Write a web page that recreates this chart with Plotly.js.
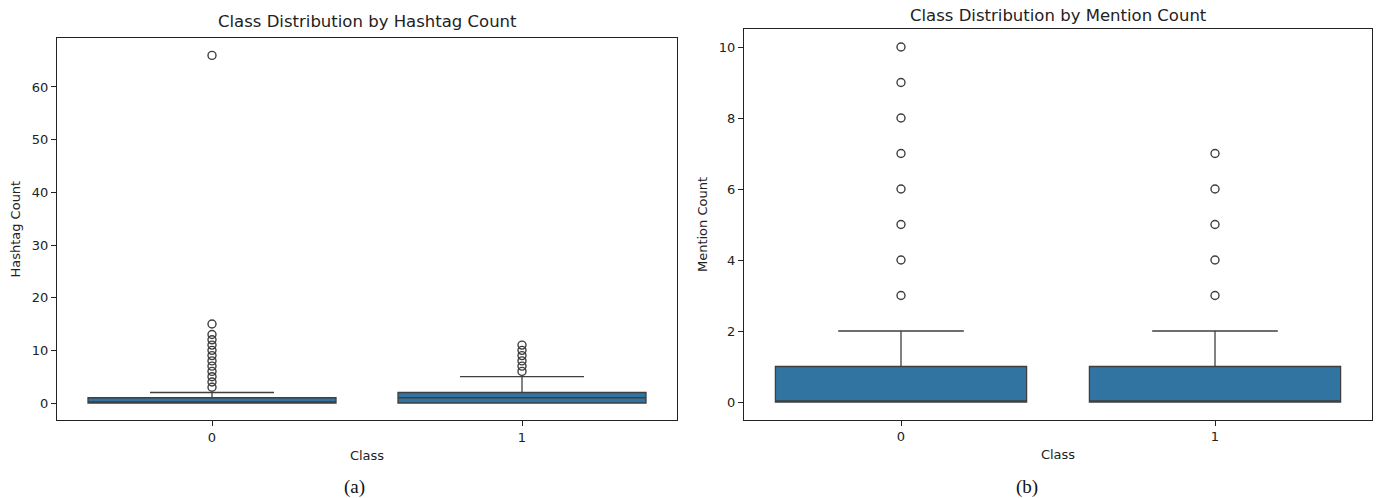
<!DOCTYPE html>
<html>
<head>
<meta charset="utf-8">
<script src="https://cdn.plot.ly/plotly-3.0.1.min.js"></script>
<style>html,body{margin:0;padding:0;background:#fff;}#chart{width:1377px;height:498px;}</style>
</head>
<body>
<div id="chart"></div>
<script>
// Categories
const classes = ['0', '1'];
const tickLabels = ['0', '1'];

// Hashtag count box statistics (per class)
const hashQ1 = [0, 0];
const hashMedian = [0, 1];
const hashQ3 = [1, 2];
const hashLower = [0, 0];
const hashUpper = [2, 5];
// Hashtag outliers
const hashOutClass0 = [3, 4, 5, 6, 7, 8, 9, 10, 11, 12, 13, 15, 66];
const hashOutClass1 = [6, 7, 8, 9, 10, 11];

// Mention count box statistics (per class)
const menQ1 = [0, 0];
const menMedian = [0, 0];
const menQ3 = [1, 1];
const menLower = [0, 0];
const menUpper = [2, 2];
// Mention outliers
const menOutClass0 = [3, 4, 5, 6, 7, 8, 9, 10];
const menOutClass1 = [3, 4, 5, 6, 7];

const boxFill = '#3274a1';
const lineCol = '#3f3f3f';
const font = 'DejaVu Sans, sans-serif';

function boxTrace(q1, med, q3, lo, hi, xa, ya) {
  return {
    type: 'box', x: classes, q1: q1, median: med, q3: q3,
    lowerfence: lo, upperfence: hi,
    width: 0.8, whiskerwidth: 0.5,
    fillcolor: boxFill, line: {color: lineCol, width: 1.3},
    boxpoints: false, showlegend: false, hoverinfo: 'skip',
    xaxis: xa, yaxis: ya
  };
}
function outTrace(cls, vals, xa, ya) {
  return {
    type: 'scatter', mode: 'markers',
    x: vals.map(() => cls), y: vals,
    marker: {symbol: 'circle-open', size: 8, color: lineCol, line: {width: 1.4, color: lineCol}},
    showlegend: false, hoverinfo: 'skip', xaxis: xa, yaxis: ya
  };
}

const data = [
  boxTrace(hashQ1, hashMedian, hashQ3, hashLower, hashUpper, 'x', 'y'),
  outTrace(classes[0], hashOutClass0, 'x', 'y'),
  outTrace(classes[1], hashOutClass1, 'x', 'y'),
  boxTrace(menQ1, menMedian, menQ3, menLower, menUpper, 'x2', 'y2'),
  outTrace(classes[0], menOutClass0, 'x2', 'y2'),
  outTrace(classes[1], menOutClass1, 'x2', 'y2')
];

const axCommon = {
  showline: true, mirror: true, linecolor: '#222', linewidth: 1,
  ticks: 'outside', ticklen: 5, tickcolor: '#222', tickwidth: 1,
  showgrid: false, zeroline: false,
  tickfont: {family: font, size: 13, color: '#222'}
};

const layout = {
  width: 1377, height: 498,
  margin: {l: 0, r: 0, t: 0, b: 0},
  paper_bgcolor: '#fff', plot_bgcolor: '#fff',
  font: {family: font, color: '#222'},
  showlegend: false,
  xaxis: Object.assign({}, axCommon, {
    domain: [57/1377, 677/1377], anchor: 'y', type: 'category',
    categoryorder: 'array', categoryarray: classes,
    tickvals: classes, ticktext: tickLabels, range: [-0.5, 1.5],
    title: {text: 'Class', font: {family: font, size: 13, color: '#222'}, standoff: 6}
  }),
  yaxis: Object.assign({}, axCommon, {
    domain: [(498-420.4)/498, (498-38)/498], anchor: 'x',
    range: [-3.3, 69.3], tickvals: [0, 10, 20, 30, 40, 50, 60],
    title: {text: 'Hashtag Count', font: {family: font, size: 13, color: '#222'}, standoff: 8}
  }),
  xaxis2: Object.assign({}, axCommon, {
    domain: [744/1377, 1372/1377], anchor: 'y2', type: 'category',
    categoryorder: 'array', categoryarray: classes,
    tickvals: classes, ticktext: tickLabels, range: [-0.5, 1.5],
    title: {text: 'Class', font: {family: font, size: 13, color: '#222'}, standoff: 6}
  }),
  yaxis2: Object.assign({}, axCommon, {
    domain: [(498-419.75)/498, (498-29.25)/498], anchor: 'x2',
    range: [-0.5, 10.5], tickvals: [0, 2, 4, 6, 8, 10],
    title: {text: 'Mention Count', font: {family: font, size: 13, color: '#222'}, standoff: 8}
  }),
  annotations: [
    {text: 'Class Distribution by Hashtag Count', xref: 'paper', yref: 'paper',
     x: 367/1377, y: (498-22)/498, xanchor: 'center', yanchor: 'middle', showarrow: false,
     font: {family: font, size: 16.5, color: '#222'}},
    {text: 'Class Distribution by Mention Count', xref: 'paper', yref: 'paper',
     x: 1058/1377, y: (498-15)/498, xanchor: 'center', yanchor: 'middle', showarrow: false,
     font: {family: font, size: 16.5, color: '#222'}},
    {text: '(a)', xref: 'paper', yref: 'paper',
     x: 354/1377, y: (498-487)/498, xanchor: 'center', yanchor: 'middle', showarrow: false,
     font: {family: 'Liberation Serif, Times New Roman, serif', size: 19, color: '#111'}},
    {text: '(b)', xref: 'paper', yref: 'paper',
     x: 1027/1377, y: (498-487)/498, xanchor: 'center', yanchor: 'middle', showarrow: false,
     font: {family: 'Liberation Serif, Times New Roman, serif', size: 19, color: '#111'}}
  ]
};

Plotly.newPlot('chart', data, layout, {staticPlot: true, displayModeBar: false});
</script>
</body>
</html>
